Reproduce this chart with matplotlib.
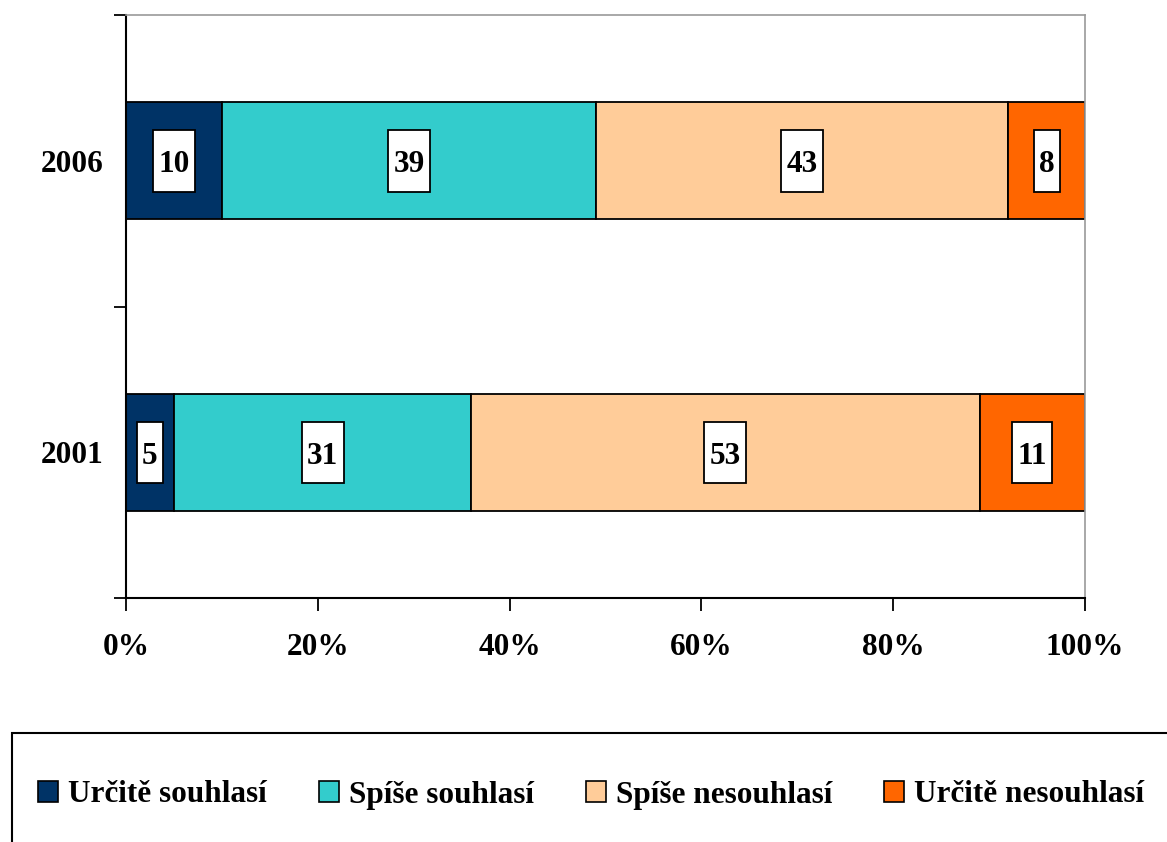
import matplotlib
matplotlib.use("Agg")
import numpy as np
import matplotlib.pyplot as plt
from matplotlib.patches import Patch, Rectangle
from matplotlib.path import Path

years = ["2001", "2006"]
categories = ["Určitě souhlasí", "Spíše souhlasí", "Spíše nesouhlasí", "Určitě nesouhlasí"]
values = {
    "Určitě souhlasí": [5, 10],
    "Spíše souhlasí": [31, 39],
    "Spíše nesouhlasí": [53, 43],
    "Určitě nesouhlasí": [11, 8],
}
colors = ["#003366", "#33CCCC", "#FFCC99", "#FF6600"]
x_ticks = [0, 20, 40, 60, 80, 100]

plt.rcParams["font.family"] = ["Liberation Serif", "DejaVu Serif"]
plt.rcParams["font.weight"] = "bold"


def label_box(x0, y0, width, height, mutation_size):
    # narrow horizontal padding, taller vertical padding (more on top)
    px = 0.17 * mutation_size
    pb = 0.40 * mutation_size
    pt = 0.64 * mutation_size
    x1, y1 = x0 + width + px, y0 + height + pt
    x0, y0 = x0 - px, y0 - pb
    return Path([(x0, y0), (x1, y0), (x1, y1), (x0, y1), (x0, y0)], closed=True)


W, H = 1167, 842
fig = plt.figure(figsize=(W / 100, H / 100), dpi=100)
ax = fig.add_axes([126 / W, (H - 598) / H, 959 / W, 583 / H])

ypos = np.arange(len(years))
left = np.zeros(len(years))
for cat, col in zip(categories, colors):
    vals = np.array(values[cat], dtype=float)
    ax.barh(ypos, vals, left=left, height=0.4, color=col,
            edgecolor="black", linewidth=1.3, zorder=2)
    for y, v, l in zip(ypos, vals, left):
        ax.annotate(f"{int(v)}", (l + v / 2, y), xytext=(0, -3),
                    textcoords="offset points", ha="center", va="center",
                    fontsize=22.5, fontweight="bold", zorder=4,
                    bbox=dict(boxstyle=label_box, facecolor="white",
                              edgecolor="black", linewidth=1.3))
    left += vals

ax.set_xlim(0, 100)
ax.set_ylim(-0.5, 1.5)
ax.set_xticks(x_ticks)
ax.set_xticklabels([f"{t}%" for t in x_ticks])
ax.set_yticks(ypos)
ax.set_yticklabels(years)
ax.set_yticks([-0.5, 0.5, 1.5], minor=True)

ax.tick_params(axis="x", direction="out", length=9, width=1.3, pad=16,
               labelsize=22.5)
ax.tick_params(axis="y", which="major", length=0, pad=16, labelsize=22.5)
ax.tick_params(axis="y", which="minor", direction="out", length=9, width=1.3)
for lab in ax.get_xticklabels() + ax.get_yticklabels():
    lab.set_fontweight("bold")

ax.spines["left"].set_linewidth(1.5)
ax.spines["bottom"].set_linewidth(1.5)
ax.spines["top"].set_color("#999999")
ax.spines["right"].set_color("#999999")
ax.spines["top"].set_linewidth(1.2)
ax.spines["right"].set_linewidth(1.2)

# legend frame runs past the right and bottom edge of the picture
fig.patches.append(Rectangle((12 / W, -0.2), 1.1, 0.2 + (H - 733) / H,
                             transform=fig.transFigure, facecolor="white",
                             edgecolor="black", linewidth=1.5, zorder=0))

handles = [Patch(facecolor=c, edgecolor="black", linewidth=1.2) for c in colors]
fig.legend(handles, categories, loc="center left",
           bbox_to_anchor=(38 / W, 1 - 795 / H), ncol=4, frameon=False,
           prop=dict(family=["Liberation Serif"], weight="bold", size=22.5),
           handlelength=0.65, handleheight=0.65, handletextpad=0.32,
           columnspacing=1.65, borderpad=0, borderaxespad=0)

fig.savefig("out.png", dpi=100)
